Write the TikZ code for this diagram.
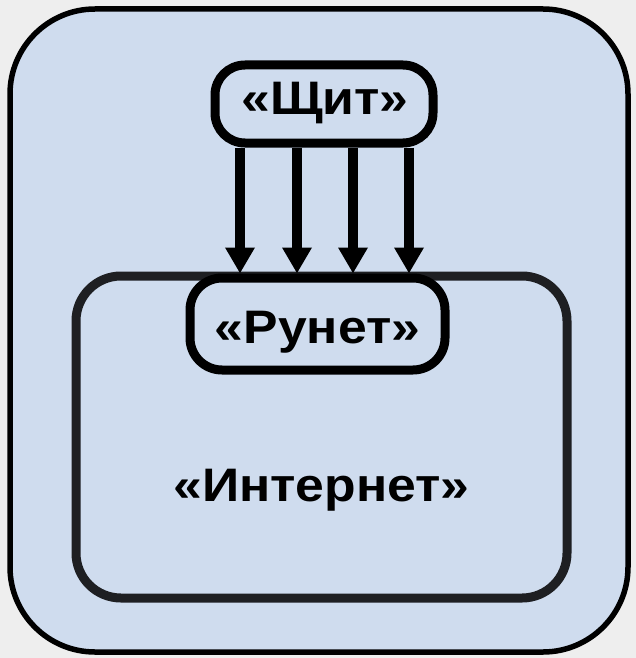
\documentclass[tikz,border=0pt]{standalone}
\usepackage{fontspec}
\usepackage{tikz}
\usetikzlibrary{arrows.meta}
\newfontfamily\lblfont{Liberation Sans Bold}[FakeStretch=1.1]
\definecolor{bg_gray}{RGB}{238,238,238}
\definecolor{box_blue}{RGB}{207,220,238}
\definecolor{edge_dark}{RGB}{30,31,34}

\begin{document}
\begin{tikzpicture}[x=1pt,y=-1pt,>={Triangle[width=28pt,length=26pt]}]
    \tikzstyle{frame}=[draw=black, line width=5.5pt, fill=box_blue, rounded corners=85pt, inner sep=0pt]
    \tikzstyle{netbox}=[draw=edge_dark, line width=9pt, fill=box_blue, rounded corners=45pt, inner sep=0pt]
    \tikzstyle{segbox}=[draw=black, line width=9pt, fill=box_blue, rounded corners=30pt, inner sep=0pt]
    \tikzstyle{caption}=[text=black, inner sep=0pt, anchor=base, font=\lblfont\fontsize{47}{56}\selectfont]
    \tikzstyle{feed}=[->, line width=10pt, black]

    \fill[bg_gray] (0,0) rectangle (636,658);
    \useasboundingbox (0,0) rectangle (636,658);

    \node[frame, minimum width=618pt, minimum height=643pt]  (world)  at (319,330.5) {};
    \node[netbox, minimum width=491pt, minimum height=322pt] (inet)   at (321.5,437) {};
    \node[caption] (inettxt) at (321.5,501) {«Интернет»};

    \node[segbox, minimum width=218pt, minimum height=78pt]  (shield) at (324,104) {};
    \node[caption] (shieldtxt) at (325,114) {«Щит»};
    \node[segbox, rounded corners=32pt, minimum width=255pt, minimum height=92pt] (runet) at (317.5,324) {};
    \node[caption] (runettxt) at (317.5,343) {«Рунет»};

    \foreach \x in {240,297,353,409}
      \draw[feed] (shield.south -| \x,0) -- (runet.north -| \x,0);
\end{tikzpicture}
\end{document}
